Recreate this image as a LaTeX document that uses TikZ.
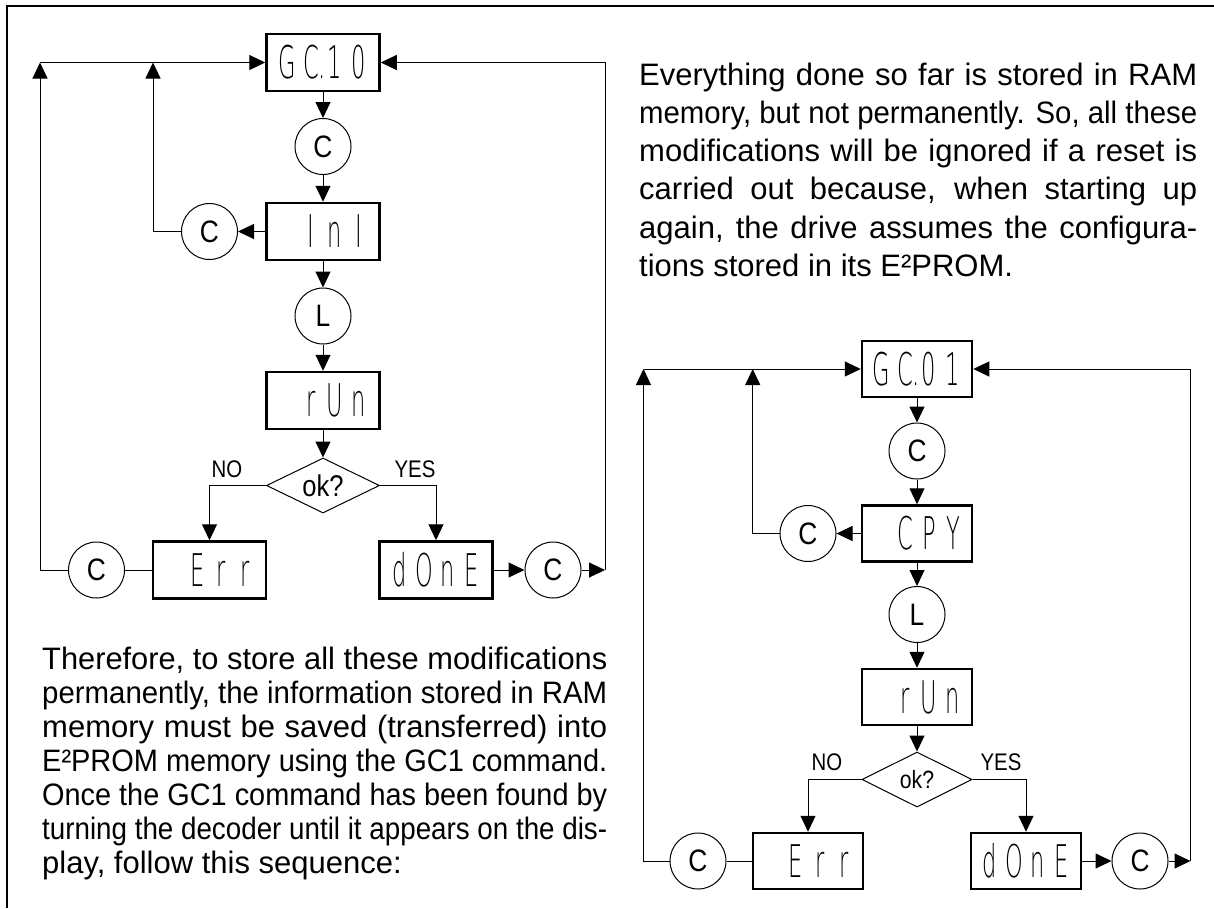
\documentclass[tikz,border=0pt]{standalone}
\usepackage{fontspec}
\setmainfont{Liberation Sans}
\IfFontExistsTF{DejaVu Sans ExtraLight}{\newfontfamily\segfont{DejaVu Sans ExtraLight}}{\newfontfamily\segfont{DejaVu Sans}}
\usetikzlibrary{arrows.meta,shapes.geometric}
\newcommand\sg[1]{\makebox[24pt][c]{\scalebox{0.5}[1]{#1}}}
\newcommand\nar[1]{\scalebox{0.85}[1]{#1}}
\newsavebox\jlbox
\newcommand\jl[2]{\sbox\jlbox{#2}\ifdim\wd\jlbox>#1\relax\resizebox{#1}{\height}{\usebox\jlbox}\else\makebox[#1][s]{#2}\fi}
\tikzset{
  dispL/.style={draw, line width=2.5pt, minimum width=113pt, minimum height=57pt, inner sep=0pt, font=\segfont\fontsize{45}{45}\selectfont},
  dispR/.style={dispL, minimum width=110pt, minimum height=56pt},
  circ/.style={draw, circle, line width=1pt, minimum size=56pt, inner sep=0pt, font=\fontsize{31}{31}\selectfont},
  dia/.style={draw, diamond, line width=1pt, aspect=2, minimum width=#1, minimum height=55pt, inner sep=0pt},
  ln/.style={line width=1pt},
  arr/.style={line width=1pt, -{Triangle[length=16pt,width=15pt]}},
  lab/.style={inner sep=0pt, font=\fontsize{24}{24}\selectfont},
  para/.style={anchor=base west, inner sep=0pt, font=\fontsize{31}{38}\selectfont},
}
\begin{document}
\begin{tikzpicture}[x=1pt,y=-1pt]
\useasboundingbox (0,0) rectangle (1214,908);
% frame
\draw[line width=2pt] (7,908) -- (7,6) -- (1214,6);

% ---------- left flowchart ----------
\node[dispL] (g1) at (323,62.5) {\sg{G}\sg{C\rlap{.}}\sg{1}\sg{0}};
\node[circ] (c1) at (323,146.5) {\nar{C}};
\node[dispL] (i1) at (323,231.5) {\sg{}\sg{I}\sg{n}\sg{I}};
\node[circ] (cl1) at (209.5,231.5) {\nar{C}};
\node[circ] (l1) at (323,316) {\nar{L}};
\node[dispL] (r1) at (323,400.5) {\sg{}\sg{r}\sg{U}\sg{n}};
\node[dia=113pt, font=\fontsize{30}{30}\selectfont] (ok1) at (323,485.5) {\nar{ok?}};
\node[dispL] (e1) at (209.5,570) {\sg{}\sg{E}\sg{r}\sg{r}};
\node[dispL] (d1) at (436,570) {\sg{d}\sg{O}\sg{n}\sg{E}};
\node[circ] (cb1) at (96.5,570) {\nar{C}};
\node[circ] (cr1) at (553,570) {\nar{C}};
\node[lab] (no1) at (227,469) {\nar{NO}};
\node[lab] (yes1) at (415,469) {\nar{YES}};
\coordinate (v1a) at (40,62.5);
\coordinate (v1b) at (153,62.5);
\coordinate (v1c) at (605,570);

\draw[arr] (g1.south) -- (c1.north);
\draw[arr] (c1.south) -- (i1.north);
\draw[arr] (i1.west) -- (cl1.east);
\draw[arr] (cl1.west) -| (v1b);
\draw[arr] (v1a) -- (g1.west);
\draw[arr] (i1.south) -- (l1.north);
\draw[arr] (l1.south) -- (r1.north);
\draw[arr] (r1.south) -- (ok1.north);
\draw[arr] (ok1.west) -| (e1.north);
\draw[arr] (ok1.east) -| (d1.north);
\draw[ln] (e1.west) -- (cb1.east);
\draw[arr] (cb1.west) -| (v1a);
\draw[arr] (d1.east) -- (cr1.west);
\draw[arr] (cr1.east) -- (v1c);
\draw[arr] (v1c) |- (g1.east);

% ---------- right flowchart ----------
\node[dispR] (g2) at (917,369) {\sg{G}\sg{C\rlap{.}}\sg{0}\sg{1}};
\node[circ] (c2) at (917,451) {\nar{C}};
\node[dispR] (p2) at (917,533.5) {\sg{}\sg{C}\sg{P}\sg{Y}};
\node[circ] (cl2) at (808,533.5) {\nar{C}};
\node[circ] (l2) at (917,614.5) {\nar{L}};
\node[dispR] (r2) at (917,697) {\sg{}\sg{r}\sg{U}\sg{n}};
\node[dia=110pt, font=\fontsize{25}{25}\selectfont] (ok2) at (917,779.5) {\nar{ok?}};
\node[dispR] (e2) at (808,861) {\sg{}\sg{E}\sg{r}\sg{r}};
\node[dispR] (d2) at (1026,861) {\sg{d}\sg{O}\sg{n}\sg{E}};
\node[circ] (cb2) at (698,861) {\nar{C}};
\node[circ] (cr2) at (1140,861) {\nar{C}};
\node[lab] (no2) at (827,762) {\nar{NO}};
\node[lab] (yes2) at (1001,762) {\nar{YES}};
\coordinate (v2a) at (643.5,369);
\coordinate (v2b) at (752.7,369);
\coordinate (v2c) at (1190.5,861);

\draw[arr] (g2.south) -- (c2.north);
\draw[arr] (c2.south) -- (p2.north);
\draw[arr] (p2.west) -- (cl2.east);
\draw[arr] (cl2.west) -| (v2b);
\draw[arr] (v2a) -- (g2.west);
\draw[arr] (p2.south) -- (l2.north);
\draw[arr] (l2.south) -- (r2.north);
\draw[arr] (r2.south) -- (ok2.north);
\draw[arr] (ok2.west) -| (e2.north);
\draw[arr] (ok2.east) -| (d2.north);
\draw[ln] (e2.west) -- (cb2.east);
\draw[arr] (cb2.west) -| (v2a);
\draw[arr] (d2.east) -- (cr2.west);
\draw[arr] (cr2.east) -- (v2c);
\draw[arr] (v2c) |- (g2.east);

% ---------- texts ----------
\node[para] (t1) at (639,85) {\jl{558pt}{Everything done so far is stored in RAM}};
\node[para] (t2) at (639,123.3) {\jl{558pt}{memory, but not permanently. So, all these}};
\node[para] (t3) at (639,161.6) {\jl{558pt}{modifications will be ignored if a reset is}};
\node[para] (t4) at (639,199.9) {\jl{558pt}{carried out because, when starting up}};
\node[para] (t5) at (639,238.2) {\jl{558pt}{again, the drive assumes the configura-}};
\node[para] (t6) at (639,276.5) {tions stored in its E²PROM.};

\node[para] (b1) at (42,669) {\jl{565pt}{Therefore, to store all these modifications}};
\node[para] (b2) at (42,703) {\jl{565pt}{permanently, the information stored in RAM}};
\node[para] (b3) at (42,737) {\jl{565pt}{memory must be saved (transferred) into}};
\node[para] (b4) at (42,771) {\jl{565pt}{E²PROM memory using the GC1 command.}};
\node[para] (b5) at (42,805) {\jl{565pt}{Once the GC1 command has been found by}};
\node[para] (b6) at (42,839) {\jl{565pt}{turning the decoder until it appears on the dis-}};
\node[para] (b7) at (42,873) {play, follow this sequence:};
\end{tikzpicture}
\end{document}
